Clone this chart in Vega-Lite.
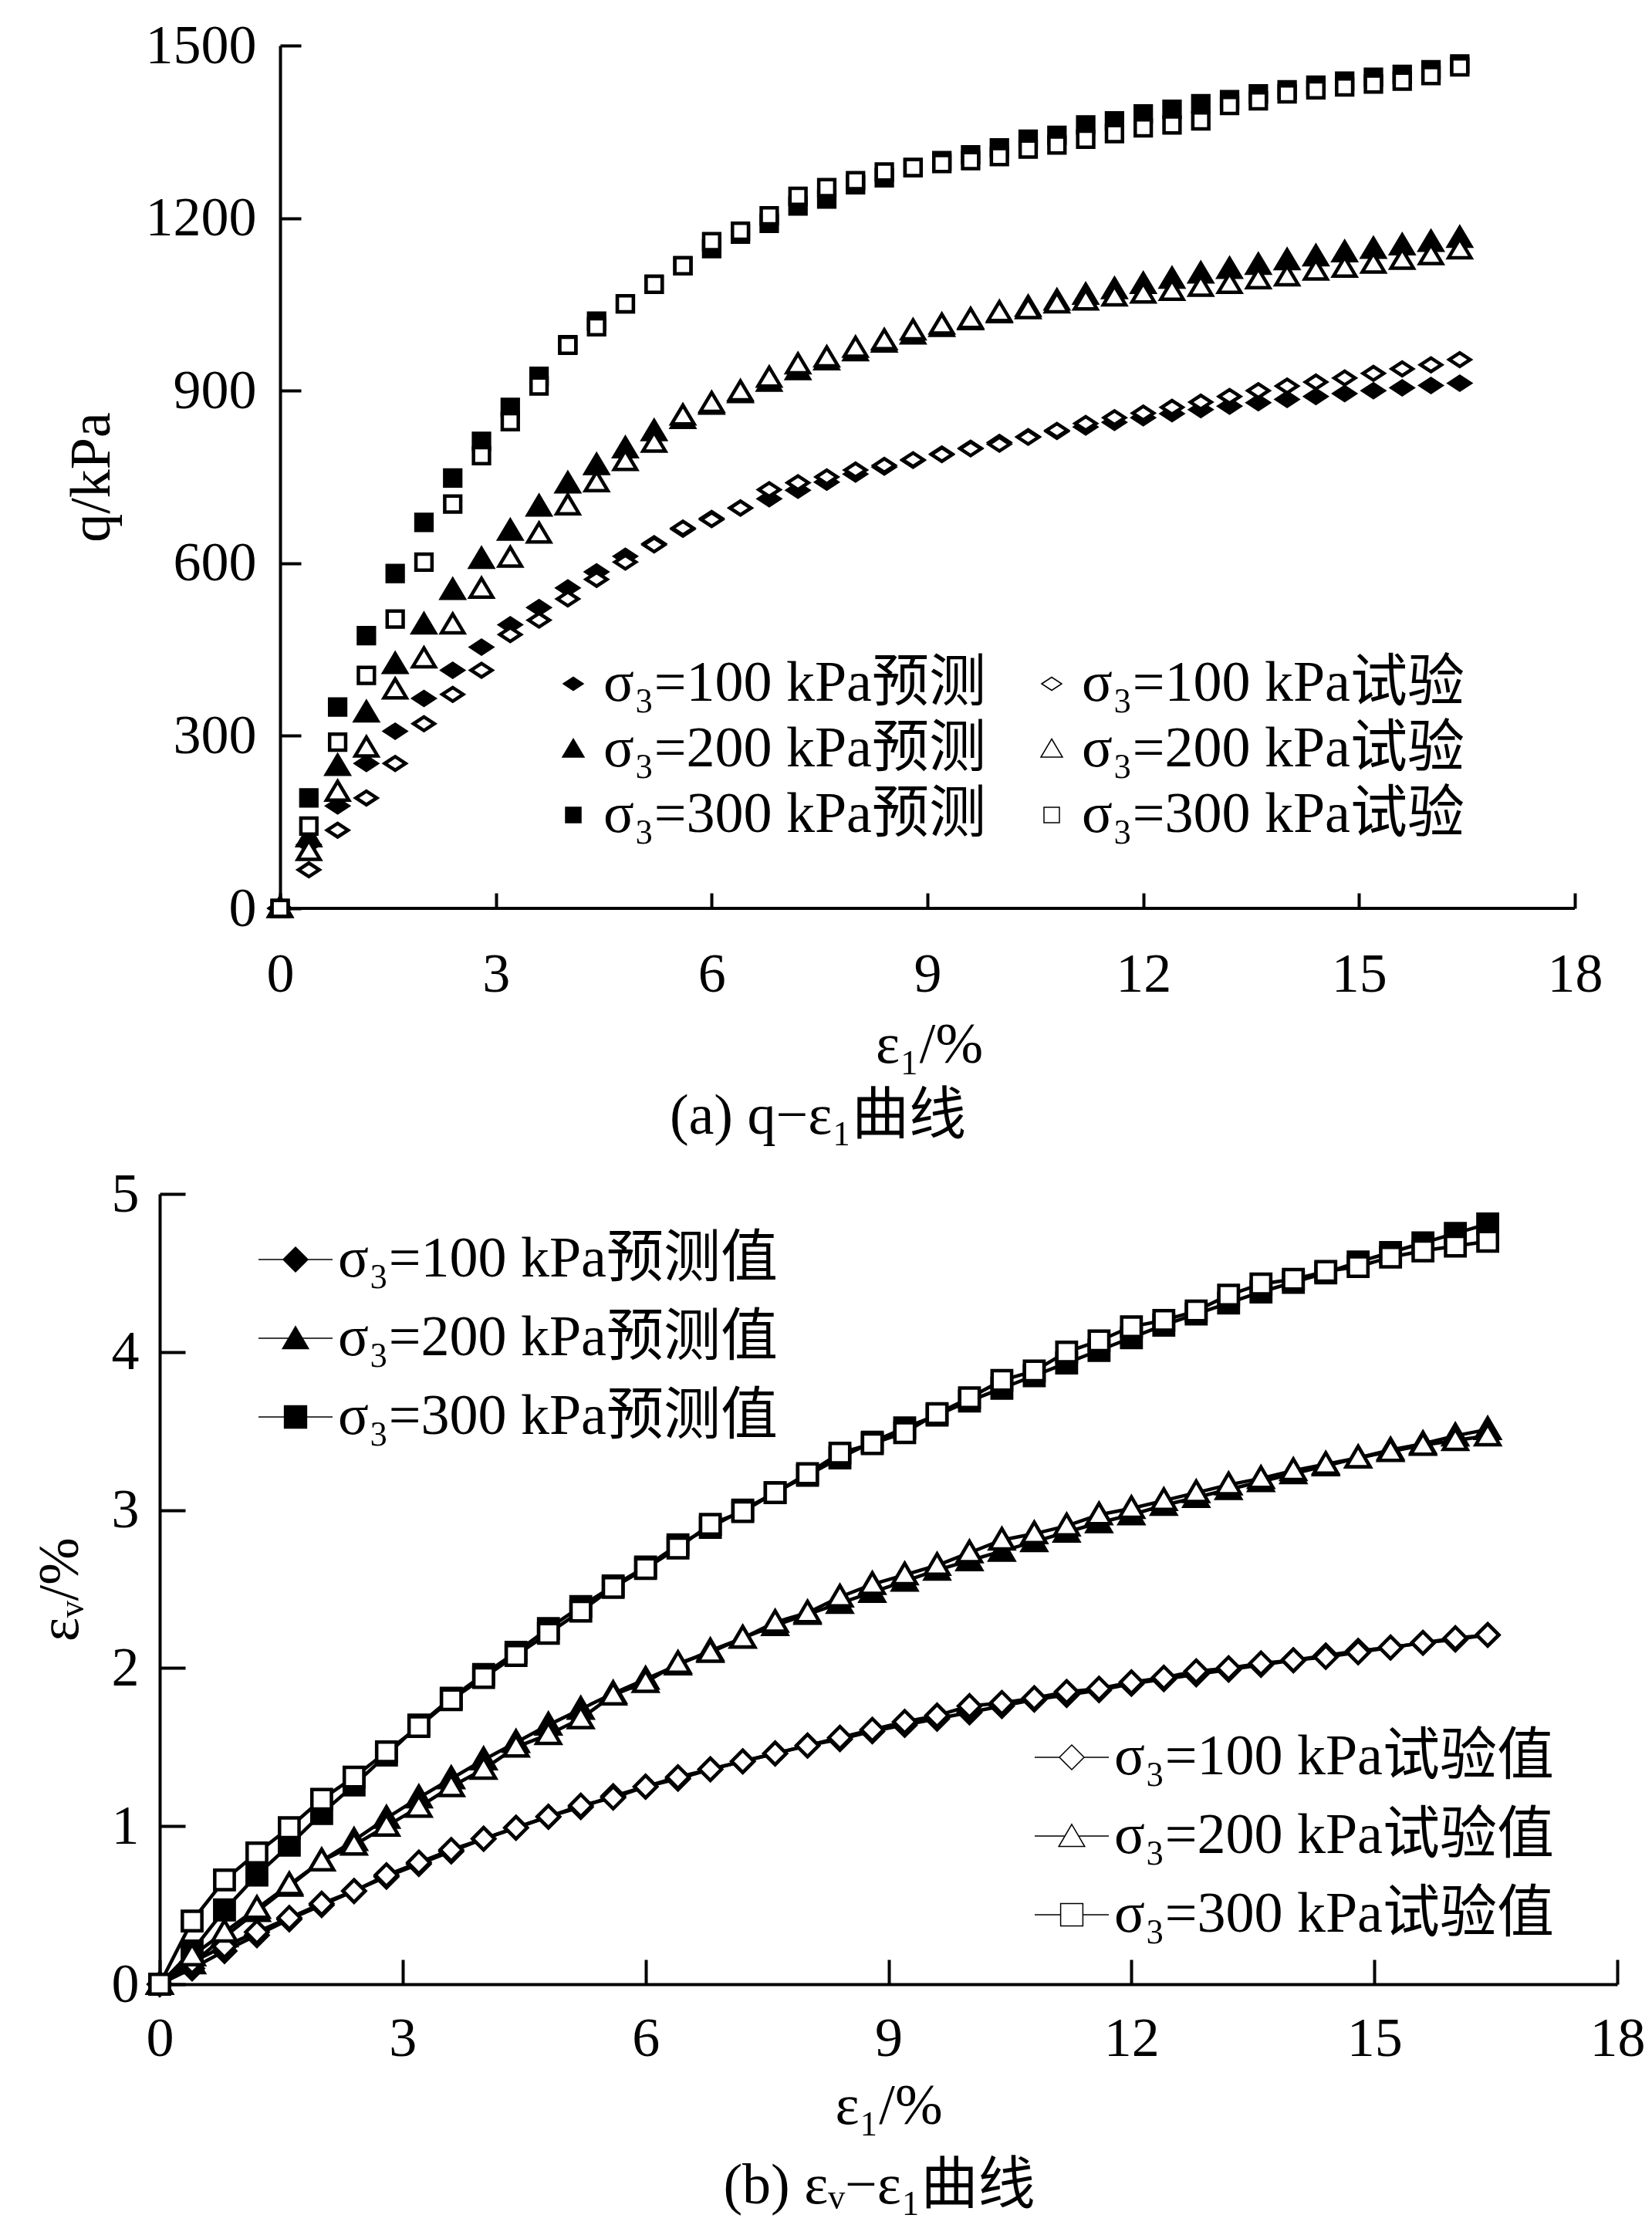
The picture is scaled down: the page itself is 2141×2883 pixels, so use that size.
{
"$schema": "https://vega.github.io/schema/vega-lite/v6.json",
"background": "white",
"padding": {"left": 41, "top": 23, "right": 5, "bottom": 5},
"spacing": 27,
"config": {
  "font": "Liberation Serif, Noto Sans CJK SC",
  "view": {"stroke": null},
  "axis": {"grid": false, "domainColor": "black", "domainWidth": 4, "tickColor": "black", "tickWidth": 4, "labelColor": "black", "titleColor": "black", "labelFont": "Liberation Serif, Noto Sans CJK SC", "labelFontSize": 72, "titleFont": "Liberation Serif, Noto Sans CJK SC", "titleFontSize": 74, "titleFontWeight": "normal", "labelFlush": false, "labelOverlap": false, "format": "d"},
  "legend": {"labelFont": "Liberation Serif, Noto Sans CJK SC", "labelFontSize": 74, "labelColor": "black", "padding": 0, "labelLimit": 2000},
  "title": {"font": "Liberation Serif, Noto Sans CJK SC", "fontSize": 74, "fontWeight": "normal", "color": "black"}
},
"datasets": {
"qdata": [
{"e":0,"q":0,"s":"σ₃=100 kPa预测"},{"e":0.4,"q":111,"s":"σ₃=100 kPa预测"},{"e":0.8,"q":178,"s":"σ₃=100 kPa预测"},{"e":1.2,"q":252,"s":"σ₃=100 kPa预测"},{"e":1.6,"q":308,"s":"σ₃=100 kPa预测"},{"e":2,"q":365,"s":"σ₃=100 kPa预测"},{"e":2.4,"q":414,"s":"σ₃=100 kPa预测"},{"e":2.8,"q":454,"s":"σ₃=100 kPa预测"},{"e":3.2,"q":493,"s":"σ₃=100 kPa预测"},{"e":3.6,"q":523,"s":"σ₃=100 kPa预测"},{"e":4,"q":557,"s":"σ₃=100 kPa预测"},{"e":4.4,"q":585,"s":"σ₃=100 kPa预测"},{"e":4.8,"q":612,"s":"σ₃=100 kPa预测"},{"e":5.2,"q":634,"s":"σ₃=100 kPa预测"},{"e":5.6,"q":659,"s":"σ₃=100 kPa预测"},{"e":6,"q":678,"s":"σ₃=100 kPa预测"},{"e":6.4,"q":696,"s":"σ₃=100 kPa预测"},{"e":6.8,"q":712,"s":"σ₃=100 kPa预测"},{"e":7.2,"q":727,"s":"σ₃=100 kPa预测"},{"e":7.6,"q":741,"s":"σ₃=100 kPa预测"},{"e":8,"q":755,"s":"σ₃=100 kPa预测"},{"e":8.4,"q":767,"s":"σ₃=100 kPa预测"},{"e":8.8,"q":779,"s":"σ₃=100 kPa预测"},{"e":9.2,"q":790,"s":"σ₃=100 kPa预测"},{"e":9.6,"q":800,"s":"σ₃=100 kPa预测"},{"e":10,"q":810,"s":"σ₃=100 kPa预测"},{"e":10.4,"q":820,"s":"σ₃=100 kPa预测"},{"e":10.8,"q":829,"s":"σ₃=100 kPa预测"},{"e":11.2,"q":837,"s":"σ₃=100 kPa预测"},{"e":11.6,"q":845,"s":"σ₃=100 kPa预测"},{"e":12,"q":853,"s":"σ₃=100 kPa预测"},{"e":12.4,"q":860,"s":"σ₃=100 kPa预测"},{"e":12.8,"q":867,"s":"σ₃=100 kPa预测"},{"e":13.2,"q":873,"s":"σ₃=100 kPa预测"},{"e":13.6,"q":879,"s":"σ₃=100 kPa预测"},{"e":14,"q":885,"s":"σ₃=100 kPa预测"},{"e":14.4,"q":890,"s":"σ₃=100 kPa预测"},{"e":14.8,"q":895,"s":"σ₃=100 kPa预测"},{"e":15.2,"q":900,"s":"σ₃=100 kPa预测"},{"e":15.6,"q":905,"s":"σ₃=100 kPa预测"},{"e":16,"q":909,"s":"σ₃=100 kPa预测"},{"e":16.4,"q":913,"s":"σ₃=100 kPa预测"},
{"e":0,"q":0,"s":"σ₃=200 kPa预测"},{"e":0.4,"q":123,"s":"σ₃=200 kPa预测"},{"e":0.8,"q":247,"s":"σ₃=200 kPa预测"},{"e":1.2,"q":340,"s":"σ₃=200 kPa预测"},{"e":1.6,"q":424,"s":"σ₃=200 kPa预测"},{"e":2,"q":493,"s":"σ₃=200 kPa预测"},{"e":2.4,"q":553,"s":"σ₃=200 kPa预测"},{"e":2.8,"q":607,"s":"σ₃=200 kPa预测"},{"e":3.2,"q":656,"s":"σ₃=200 kPa预测"},{"e":3.6,"q":698,"s":"σ₃=200 kPa预测"},{"e":4,"q":738,"s":"σ₃=200 kPa预测"},{"e":4.4,"q":770,"s":"σ₃=200 kPa预测"},{"e":4.8,"q":799,"s":"σ₃=200 kPa预测"},{"e":5.2,"q":829,"s":"σ₃=200 kPa预测"},{"e":5.6,"q":850,"s":"σ₃=200 kPa预测"},{"e":6,"q":875,"s":"σ₃=200 kPa预测"},{"e":6.4,"q":895,"s":"σ₃=200 kPa预测"},{"e":6.8,"q":915,"s":"σ₃=200 kPa预测"},{"e":7.2,"q":935,"s":"σ₃=200 kPa预测"},{"e":7.6,"q":952,"s":"σ₃=200 kPa预测"},{"e":8,"q":968,"s":"σ₃=200 kPa预测"},{"e":8.4,"q":983,"s":"σ₃=200 kPa预测"},{"e":8.8,"q":997,"s":"σ₃=200 kPa预测"},{"e":9.2,"q":1010,"s":"σ₃=200 kPa预测"},{"e":9.6,"q":1022,"s":"σ₃=200 kPa预测"},{"e":10,"q":1034,"s":"σ₃=200 kPa预测"},{"e":10.4,"q":1045,"s":"σ₃=200 kPa预测"},{"e":10.8,"q":1056,"s":"σ₃=200 kPa预测"},{"e":11.2,"q":1066,"s":"σ₃=200 kPa预测"},{"e":11.6,"q":1076,"s":"σ₃=200 kPa预测"},{"e":12,"q":1085,"s":"σ₃=200 kPa预测"},{"e":12.4,"q":1094,"s":"σ₃=200 kPa预测"},{"e":12.8,"q":1103,"s":"σ₃=200 kPa预测"},{"e":13.2,"q":1111,"s":"σ₃=200 kPa预测"},{"e":13.6,"q":1118,"s":"σ₃=200 kPa预测"},{"e":14,"q":1126,"s":"σ₃=200 kPa预测"},{"e":14.4,"q":1133,"s":"σ₃=200 kPa预测"},{"e":14.8,"q":1140,"s":"σ₃=200 kPa预测"},{"e":15.2,"q":1146,"s":"σ₃=200 kPa预测"},{"e":15.6,"q":1152,"s":"σ₃=200 kPa预测"},{"e":16,"q":1158,"s":"σ₃=200 kPa预测"},{"e":16.4,"q":1165,"s":"σ₃=200 kPa预测"},
{"e":0,"q":0,"s":"σ₃=300 kPa预测"},{"e":0.4,"q":192,"s":"σ₃=300 kPa预测"},{"e":0.8,"q":350,"s":"σ₃=300 kPa预测"},{"e":1.2,"q":474,"s":"σ₃=300 kPa预测"},{"e":1.6,"q":582,"s":"σ₃=300 kPa预测"},{"e":2,"q":671,"s":"σ₃=300 kPa预测"},{"e":2.4,"q":748,"s":"σ₃=300 kPa预测"},{"e":2.8,"q":812,"s":"σ₃=300 kPa预测"},{"e":3.2,"q":871,"s":"σ₃=300 kPa预测"},{"e":3.6,"q":925,"s":"σ₃=300 kPa预测"},{"e":4,"q":980,"s":"σ₃=300 kPa预测"},{"e":4.4,"q":1021,"s":"σ₃=300 kPa预测"},{"e":4.8,"q":1051,"s":"σ₃=300 kPa预测"},{"e":5.2,"q":1085,"s":"σ₃=300 kPa预测"},{"e":5.6,"q":1117,"s":"σ₃=300 kPa预测"},{"e":6,"q":1147,"s":"σ₃=300 kPa预测"},{"e":6.4,"q":1172,"s":"σ₃=300 kPa预测"},{"e":6.8,"q":1191,"s":"σ₃=300 kPa预测"},{"e":7.2,"q":1221,"s":"σ₃=300 kPa预测"},{"e":7.6,"q":1233,"s":"σ₃=300 kPa预测"},{"e":8,"q":1258,"s":"σ₃=300 kPa预测"},{"e":8.4,"q":1270,"s":"σ₃=300 kPa预测"},{"e":8.8,"q":1288,"s":"σ₃=300 kPa预测"},{"e":9.2,"q":1300,"s":"σ₃=300 kPa预测"},{"e":9.6,"q":1310,"s":"σ₃=300 kPa预测"},{"e":10,"q":1322,"s":"σ₃=300 kPa预测"},{"e":10.4,"q":1337,"s":"σ₃=300 kPa预测"},{"e":10.8,"q":1344,"s":"σ₃=300 kPa预测"},{"e":11.2,"q":1362,"s":"σ₃=300 kPa预测"},{"e":11.6,"q":1369,"s":"σ₃=300 kPa预测"},{"e":12,"q":1381,"s":"σ₃=300 kPa预测"},{"e":12.4,"q":1389,"s":"σ₃=300 kPa预测"},{"e":12.8,"q":1399,"s":"σ₃=300 kPa预测"},{"e":13.2,"q":1406,"s":"σ₃=300 kPa预测"},{"e":13.6,"q":1416,"s":"σ₃=300 kPa预测"},{"e":14,"q":1423,"s":"σ₃=300 kPa预测"},{"e":14.4,"q":1431,"s":"σ₃=300 kPa预测"},{"e":14.8,"q":1438,"s":"σ₃=300 kPa预测"},{"e":15.2,"q":1445,"s":"σ₃=300 kPa预测"},{"e":15.6,"q":1450,"s":"σ₃=300 kPa预测"},{"e":16,"q":1458,"s":"σ₃=300 kPa预测"},{"e":16.4,"q":1468,"s":"σ₃=300 kPa预测"},
{"e":0,"q":0,"s":"σ₃=100 kPa试验"},{"e":0.4,"q":67,"s":"σ₃=100 kPa试验"},{"e":0.8,"q":136,"s":"σ₃=100 kPa试验"},{"e":1.2,"q":192,"s":"σ₃=100 kPa试验"},{"e":1.6,"q":252,"s":"σ₃=100 kPa试验"},{"e":2,"q":321,"s":"σ₃=100 kPa试验"},{"e":2.4,"q":372,"s":"σ₃=100 kPa试验"},{"e":2.8,"q":414,"s":"σ₃=100 kPa试验"},{"e":3.2,"q":476,"s":"σ₃=100 kPa试验"},{"e":3.6,"q":501,"s":"σ₃=100 kPa试验"},{"e":4,"q":538,"s":"σ₃=100 kPa试验"},{"e":4.4,"q":572,"s":"σ₃=100 kPa试验"},{"e":4.8,"q":602,"s":"σ₃=100 kPa试验"},{"e":5.2,"q":632,"s":"σ₃=100 kPa试验"},{"e":5.6,"q":661,"s":"σ₃=100 kPa试验"},{"e":6,"q":676,"s":"σ₃=100 kPa试验"},{"e":6.4,"q":696,"s":"σ₃=100 kPa试验"},{"e":6.8,"q":728,"s":"σ₃=100 kPa试验"},{"e":7.2,"q":740,"s":"σ₃=100 kPa试验"},{"e":7.6,"q":750,"s":"σ₃=100 kPa试验"},{"e":8,"q":762,"s":"σ₃=100 kPa试验"},{"e":8.4,"q":770,"s":"σ₃=100 kPa试验"},{"e":8.8,"q":780,"s":"σ₃=100 kPa试验"},{"e":9.2,"q":789,"s":"σ₃=100 kPa试验"},{"e":9.6,"q":799,"s":"σ₃=100 kPa试验"},{"e":10,"q":807,"s":"σ₃=100 kPa试验"},{"e":10.4,"q":819,"s":"σ₃=100 kPa试验"},{"e":10.8,"q":831,"s":"σ₃=100 kPa试验"},{"e":11.2,"q":843,"s":"σ₃=100 kPa试验"},{"e":11.6,"q":853,"s":"σ₃=100 kPa试验"},{"e":12,"q":861,"s":"σ₃=100 kPa试验"},{"e":12.4,"q":871,"s":"σ₃=100 kPa试验"},{"e":12.8,"q":880,"s":"σ₃=100 kPa试验"},{"e":13.2,"q":890,"s":"σ₃=100 kPa试验"},{"e":13.6,"q":900,"s":"σ₃=100 kPa试验"},{"e":14,"q":908,"s":"σ₃=100 kPa试验"},{"e":14.4,"q":915,"s":"σ₃=100 kPa试验"},{"e":14.8,"q":922,"s":"σ₃=100 kPa试验"},{"e":15.2,"q":930,"s":"σ₃=100 kPa试验"},{"e":15.6,"q":938,"s":"σ₃=100 kPa试验"},{"e":16,"q":945,"s":"σ₃=100 kPa试验"},{"e":16.4,"q":954,"s":"σ₃=100 kPa试验"},
{"e":0,"q":0,"s":"σ₃=200 kPa试验"},{"e":0.4,"q":99,"s":"σ₃=200 kPa试验"},{"e":0.8,"q":202,"s":"σ₃=200 kPa试验"},{"e":1.2,"q":279,"s":"σ₃=200 kPa试验"},{"e":1.6,"q":380,"s":"σ₃=200 kPa试验"},{"e":2,"q":434,"s":"σ₃=200 kPa试验"},{"e":2.4,"q":493,"s":"σ₃=200 kPa试验"},{"e":2.8,"q":555,"s":"σ₃=200 kPa试验"},{"e":3.2,"q":609,"s":"σ₃=200 kPa试验"},{"e":3.6,"q":651,"s":"σ₃=200 kPa试验"},{"e":4,"q":700,"s":"σ₃=200 kPa试验"},{"e":4.4,"q":740,"s":"σ₃=200 kPa试验"},{"e":4.8,"q":777,"s":"σ₃=200 kPa试验"},{"e":5.2,"q":809,"s":"σ₃=200 kPa试验"},{"e":5.6,"q":856,"s":"σ₃=200 kPa试验"},{"e":6,"q":878,"s":"σ₃=200 kPa试验"},{"e":6.4,"q":898,"s":"σ₃=200 kPa试验"},{"e":6.8,"q":922,"s":"σ₃=200 kPa试验"},{"e":7.2,"q":945,"s":"σ₃=200 kPa试验"},{"e":7.6,"q":957,"s":"σ₃=200 kPa试验"},{"e":8,"q":974,"s":"σ₃=200 kPa试验"},{"e":8.4,"q":987,"s":"σ₃=200 kPa试验"},{"e":8.8,"q":1004,"s":"σ₃=200 kPa试验"},{"e":9.2,"q":1014,"s":"σ₃=200 kPa试验"},{"e":9.6,"q":1024,"s":"σ₃=200 kPa试验"},{"e":10,"q":1036,"s":"σ₃=200 kPa试验"},{"e":10.4,"q":1041,"s":"σ₃=200 kPa试验"},{"e":10.8,"q":1051,"s":"σ₃=200 kPa试验"},{"e":11.2,"q":1056,"s":"σ₃=200 kPa试验"},{"e":11.6,"q":1063,"s":"σ₃=200 kPa试验"},{"e":12,"q":1068,"s":"σ₃=200 kPa试验"},{"e":12.4,"q":1073,"s":"σ₃=200 kPa试验"},{"e":12.8,"q":1080,"s":"σ₃=200 kPa试验"},{"e":13.2,"q":1085,"s":"σ₃=200 kPa试验"},{"e":13.6,"q":1093,"s":"σ₃=200 kPa试验"},{"e":14,"q":1098,"s":"σ₃=200 kPa试验"},{"e":14.4,"q":1108,"s":"σ₃=200 kPa试验"},{"e":14.8,"q":1113,"s":"σ₃=200 kPa试验"},{"e":15.2,"q":1120,"s":"σ₃=200 kPa试验"},{"e":15.6,"q":1127,"s":"σ₃=200 kPa试验"},{"e":16,"q":1135,"s":"σ₃=200 kPa试验"},{"e":16.4,"q":1145,"s":"σ₃=200 kPa试验"},
{"e":0,"q":0,"s":"σ₃=300 kPa试验"},{"e":0.4,"q":143,"s":"σ₃=300 kPa试验"},{"e":0.8,"q":289,"s":"σ₃=300 kPa试验"},{"e":1.2,"q":405,"s":"σ₃=300 kPa试验"},{"e":1.6,"q":503,"s":"σ₃=300 kPa试验"},{"e":2,"q":602,"s":"σ₃=300 kPa试验"},{"e":2.4,"q":703,"s":"σ₃=300 kPa试验"},{"e":2.8,"q":787,"s":"σ₃=300 kPa试验"},{"e":3.2,"q":846,"s":"σ₃=300 kPa试验"},{"e":3.6,"q":908,"s":"σ₃=300 kPa试验"},{"e":4,"q":979,"s":"σ₃=300 kPa试验"},{"e":4.4,"q":1011,"s":"σ₃=300 kPa试验"},{"e":4.8,"q":1051,"s":"σ₃=300 kPa试验"},{"e":5.2,"q":1085,"s":"σ₃=300 kPa试验"},{"e":5.6,"q":1117,"s":"σ₃=300 kPa试验"},{"e":6,"q":1159,"s":"σ₃=300 kPa试验"},{"e":6.4,"q":1177,"s":"σ₃=300 kPa试验"},{"e":6.8,"q":1204,"s":"σ₃=300 kPa试验"},{"e":7.2,"q":1238,"s":"σ₃=300 kPa试验"},{"e":7.6,"q":1253,"s":"σ₃=300 kPa试验"},{"e":8,"q":1265,"s":"σ₃=300 kPa试验"},{"e":8.4,"q":1280,"s":"σ₃=300 kPa试验"},{"e":8.8,"q":1288,"s":"σ₃=300 kPa试验"},{"e":9.2,"q":1295,"s":"σ₃=300 kPa试验"},{"e":9.6,"q":1300,"s":"σ₃=300 kPa试验"},{"e":10,"q":1307,"s":"σ₃=300 kPa试验"},{"e":10.4,"q":1320,"s":"σ₃=300 kPa试验"},{"e":10.8,"q":1327,"s":"σ₃=300 kPa试验"},{"e":11.2,"q":1337,"s":"σ₃=300 kPa试验"},{"e":11.6,"q":1347,"s":"σ₃=300 kPa试验"},{"e":12,"q":1357,"s":"σ₃=300 kPa试验"},{"e":12.4,"q":1362,"s":"σ₃=300 kPa试验"},{"e":12.8,"q":1369,"s":"σ₃=300 kPa试验"},{"e":13.2,"q":1396,"s":"σ₃=300 kPa试验"},{"e":13.6,"q":1404,"s":"σ₃=300 kPa试验"},{"e":14,"q":1416,"s":"σ₃=300 kPa试验"},{"e":14.4,"q":1423,"s":"σ₃=300 kPa试验"},{"e":14.8,"q":1428,"s":"σ₃=300 kPa试验"},{"e":15.2,"q":1433,"s":"σ₃=300 kPa试验"},{"e":15.6,"q":1438,"s":"σ₃=300 kPa试验"},{"e":16,"q":1448,"s":"σ₃=300 kPa试验"},{"e":16.4,"q":1463,"s":"σ₃=300 kPa试验"}
],
"vdata": [
{"e":0,"v":0,"s":"σ₃=100 kPa预测值"},{"e":0.4,"v":0.10,"s":"σ₃=100 kPa预测值"},{"e":0.8,"v":0.21,"s":"σ₃=100 kPa预测值"},{"e":1.2,"v":0.31,"s":"σ₃=100 kPa预测值"},{"e":1.6,"v":0.41,"s":"σ₃=100 kPa预测值"},{"e":2,"v":0.50,"s":"σ₃=100 kPa预测值"},{"e":2.4,"v":0.59,"s":"σ₃=100 kPa预测值"},{"e":2.8,"v":0.68,"s":"σ₃=100 kPa预测值"},{"e":3.2,"v":0.76,"s":"σ₃=100 kPa预测值"},{"e":3.6,"v":0.84,"s":"σ₃=100 kPa预测值"},{"e":4,"v":0.92,"s":"σ₃=100 kPa预测值"},{"e":4.4,"v":0.99,"s":"σ₃=100 kPa预测值"},{"e":4.8,"v":1.06,"s":"σ₃=100 kPa预测值"},{"e":5.2,"v":1.12,"s":"σ₃=100 kPa预测值"},{"e":5.6,"v":1.19,"s":"σ₃=100 kPa预测值"},{"e":6,"v":1.25,"s":"σ₃=100 kPa预测值"},{"e":6.4,"v":1.30,"s":"σ₃=100 kPa预测值"},{"e":6.8,"v":1.36,"s":"σ₃=100 kPa预测值"},{"e":7.2,"v":1.41,"s":"σ₃=100 kPa预测值"},{"e":7.6,"v":1.46,"s":"σ₃=100 kPa预测值"},{"e":8,"v":1.51,"s":"σ₃=100 kPa预测值"},{"e":8.4,"v":1.55,"s":"σ₃=100 kPa预测值"},{"e":8.8,"v":1.60,"s":"σ₃=100 kPa预测值"},{"e":9.2,"v":1.64,"s":"σ₃=100 kPa预测值"},{"e":9.6,"v":1.68,"s":"σ₃=100 kPa预测值"},{"e":10,"v":1.72,"s":"σ₃=100 kPa预测值"},{"e":10.4,"v":1.76,"s":"σ₃=100 kPa预测值"},{"e":10.8,"v":1.80,"s":"σ₃=100 kPa预测值"},{"e":11.2,"v":1.83,"s":"σ₃=100 kPa预测值"},{"e":11.6,"v":1.86,"s":"σ₃=100 kPa预测值"},{"e":12,"v":1.90,"s":"σ₃=100 kPa预测值"},{"e":12.4,"v":1.93,"s":"σ₃=100 kPa预测值"},{"e":12.8,"v":1.96,"s":"σ₃=100 kPa预测值"},{"e":13.2,"v":1.99,"s":"σ₃=100 kPa预测值"},{"e":13.6,"v":2.02,"s":"σ₃=100 kPa预测值"},{"e":14,"v":2.05,"s":"σ₃=100 kPa预测值"},{"e":14.4,"v":2.08,"s":"σ₃=100 kPa预测值"},{"e":14.8,"v":2.11,"s":"σ₃=100 kPa预测值"},{"e":15.2,"v":2.13,"s":"σ₃=100 kPa预测值"},{"e":15.6,"v":2.16,"s":"σ₃=100 kPa预测值"},{"e":16,"v":2.18,"s":"σ₃=100 kPa预测值"},{"e":16.4,"v":2.21,"s":"σ₃=100 kPa预测值"},
{"e":0,"v":0,"s":"σ₃=200 kPa预测值"},{"e":0.4,"v":0.13,"s":"σ₃=200 kPa预测值"},{"e":0.8,"v":0.30,"s":"σ₃=200 kPa预测值"},{"e":1.2,"v":0.46,"s":"σ₃=200 kPa预测值"},{"e":1.6,"v":0.62,"s":"σ₃=200 kPa预测值"},{"e":2,"v":0.78,"s":"σ₃=200 kPa预测值"},{"e":2.4,"v":0.91,"s":"σ₃=200 kPa预测值"},{"e":2.8,"v":1.05,"s":"σ₃=200 kPa预测值"},{"e":3.2,"v":1.18,"s":"σ₃=200 kPa预测值"},{"e":3.6,"v":1.30,"s":"σ₃=200 kPa预测值"},{"e":4,"v":1.42,"s":"σ₃=200 kPa预测值"},{"e":4.4,"v":1.53,"s":"σ₃=200 kPa预测值"},{"e":4.8,"v":1.64,"s":"σ₃=200 kPa预测值"},{"e":5.2,"v":1.74,"s":"σ₃=200 kPa预测值"},{"e":5.6,"v":1.84,"s":"σ₃=200 kPa预测值"},{"e":6,"v":1.93,"s":"σ₃=200 kPa预测值"},{"e":6.4,"v":2.02,"s":"σ₃=200 kPa预测值"},{"e":6.8,"v":2.11,"s":"σ₃=200 kPa预测值"},{"e":7.2,"v":2.19,"s":"σ₃=200 kPa预测值"},{"e":7.6,"v":2.27,"s":"σ₃=200 kPa预测值"},{"e":8,"v":2.34,"s":"σ₃=200 kPa预测值"},{"e":8.4,"v":2.41,"s":"σ₃=200 kPa预测值"},{"e":8.8,"v":2.48,"s":"σ₃=200 kPa预测值"},{"e":9.2,"v":2.55,"s":"σ₃=200 kPa预测值"},{"e":9.6,"v":2.62,"s":"σ₃=200 kPa预测值"},{"e":10,"v":2.68,"s":"σ₃=200 kPa预测值"},{"e":10.4,"v":2.74,"s":"σ₃=200 kPa预测值"},{"e":10.8,"v":2.80,"s":"σ₃=200 kPa预测值"},{"e":11.2,"v":2.86,"s":"σ₃=200 kPa预测值"},{"e":11.6,"v":2.92,"s":"σ₃=200 kPa预测值"},{"e":12,"v":2.97,"s":"σ₃=200 kPa预测值"},{"e":12.4,"v":3.03,"s":"σ₃=200 kPa预测值"},{"e":12.8,"v":3.08,"s":"σ₃=200 kPa预测值"},{"e":13.2,"v":3.13,"s":"σ₃=200 kPa预测值"},{"e":13.6,"v":3.18,"s":"σ₃=200 kPa预测值"},{"e":14,"v":3.23,"s":"σ₃=200 kPa预测值"},{"e":14.4,"v":3.28,"s":"σ₃=200 kPa预测值"},{"e":14.8,"v":3.33,"s":"σ₃=200 kPa预测值"},{"e":15.2,"v":3.38,"s":"σ₃=200 kPa预测值"},{"e":15.6,"v":3.42,"s":"σ₃=200 kPa预测值"},{"e":16,"v":3.47,"s":"σ₃=200 kPa预测值"},{"e":16.4,"v":3.51,"s":"σ₃=200 kPa预测值"},
{"e":0,"v":0,"s":"σ₃=300 kPa预测值"},{"e":0.4,"v":0.21,"s":"σ₃=300 kPa预测值"},{"e":0.8,"v":0.47,"s":"σ₃=300 kPa预测值"},{"e":1.2,"v":0.69,"s":"σ₃=300 kPa预测值"},{"e":1.6,"v":0.88,"s":"σ₃=300 kPa预测值"},{"e":2,"v":1.08,"s":"σ₃=300 kPa预测值"},{"e":2.4,"v":1.26,"s":"σ₃=300 kPa预测值"},{"e":2.8,"v":1.45,"s":"σ₃=300 kPa预测值"},{"e":3.2,"v":1.64,"s":"σ₃=300 kPa预测值"},{"e":3.6,"v":1.81,"s":"σ₃=300 kPa预测值"},{"e":4,"v":1.96,"s":"σ₃=300 kPa预测值"},{"e":4.4,"v":2.10,"s":"σ₃=300 kPa预测值"},{"e":4.8,"v":2.25,"s":"σ₃=300 kPa预测值"},{"e":5.2,"v":2.39,"s":"σ₃=300 kPa预测值"},{"e":5.6,"v":2.52,"s":"σ₃=300 kPa预测值"},{"e":6,"v":2.64,"s":"σ₃=300 kPa预测值"},{"e":6.4,"v":2.78,"s":"σ₃=300 kPa预测值"},{"e":6.8,"v":2.89,"s":"σ₃=300 kPa预测值"},{"e":7.2,"v":3.00,"s":"σ₃=300 kPa预测值"},{"e":7.6,"v":3.11,"s":"σ₃=300 kPa预测值"},{"e":8,"v":3.22,"s":"σ₃=300 kPa预测值"},{"e":8.4,"v":3.33,"s":"σ₃=300 kPa预测值"},{"e":8.8,"v":3.43,"s":"σ₃=300 kPa预测值"},{"e":9.2,"v":3.52,"s":"σ₃=300 kPa预测值"},{"e":9.6,"v":3.60,"s":"σ₃=300 kPa预测值"},{"e":10,"v":3.69,"s":"σ₃=300 kPa预测值"},{"e":10.4,"v":3.77,"s":"σ₃=300 kPa预测值"},{"e":10.8,"v":3.85,"s":"σ₃=300 kPa预测值"},{"e":11.2,"v":3.93,"s":"σ₃=300 kPa预测值"},{"e":11.6,"v":4.01,"s":"σ₃=300 kPa预测值"},{"e":12,"v":4.09,"s":"σ₃=300 kPa预测值"},{"e":12.4,"v":4.17,"s":"σ₃=300 kPa预测值"},{"e":12.8,"v":4.24,"s":"σ₃=300 kPa预测值"},{"e":13.2,"v":4.31,"s":"σ₃=300 kPa预测值"},{"e":13.6,"v":4.38,"s":"σ₃=300 kPa预测值"},{"e":14,"v":4.44,"s":"σ₃=300 kPa预测值"},{"e":14.4,"v":4.50,"s":"σ₃=300 kPa预测值"},{"e":14.8,"v":4.57,"s":"σ₃=300 kPa预测值"},{"e":15.2,"v":4.63,"s":"σ₃=300 kPa预测值"},{"e":15.6,"v":4.69,"s":"σ₃=300 kPa预测值"},{"e":16,"v":4.75,"s":"σ₃=300 kPa预测值"},{"e":16.4,"v":4.81,"s":"σ₃=300 kPa预测值"},
{"e":0,"v":0,"s":"σ₃=100 kPa试验值"},{"e":0.4,"v":0.14,"s":"σ₃=100 kPa试验值"},{"e":0.8,"v":0.24,"s":"σ₃=100 kPa试验值"},{"e":1.2,"v":0.33,"s":"σ₃=100 kPa试验值"},{"e":1.6,"v":0.42,"s":"σ₃=100 kPa试验值"},{"e":2,"v":0.51,"s":"σ₃=100 kPa试验值"},{"e":2.4,"v":0.59,"s":"σ₃=100 kPa试验值"},{"e":2.8,"v":0.69,"s":"σ₃=100 kPa试验值"},{"e":3.2,"v":0.77,"s":"σ₃=100 kPa试验值"},{"e":3.6,"v":0.85,"s":"σ₃=100 kPa试验值"},{"e":4,"v":0.92,"s":"σ₃=100 kPa试验值"},{"e":4.4,"v":0.99,"s":"σ₃=100 kPa试验值"},{"e":4.8,"v":1.06,"s":"σ₃=100 kPa试验值"},{"e":5.2,"v":1.13,"s":"σ₃=100 kPa试验值"},{"e":5.6,"v":1.18,"s":"σ₃=100 kPa试验值"},{"e":6,"v":1.25,"s":"σ₃=100 kPa试验值"},{"e":6.4,"v":1.31,"s":"σ₃=100 kPa试验值"},{"e":6.8,"v":1.36,"s":"σ₃=100 kPa试验值"},{"e":7.2,"v":1.41,"s":"σ₃=100 kPa试验值"},{"e":7.6,"v":1.46,"s":"σ₃=100 kPa试验值"},{"e":8,"v":1.51,"s":"σ₃=100 kPa试验值"},{"e":8.4,"v":1.56,"s":"σ₃=100 kPa试验值"},{"e":8.8,"v":1.61,"s":"σ₃=100 kPa试验值"},{"e":9.2,"v":1.66,"s":"σ₃=100 kPa试验值"},{"e":9.6,"v":1.70,"s":"σ₃=100 kPa试验值"},{"e":10,"v":1.76,"s":"σ₃=100 kPa试验值"},{"e":10.4,"v":1.78,"s":"σ₃=100 kPa试验值"},{"e":10.8,"v":1.81,"s":"σ₃=100 kPa试验值"},{"e":11.2,"v":1.85,"s":"σ₃=100 kPa试验值"},{"e":11.6,"v":1.87,"s":"σ₃=100 kPa试验值"},{"e":12,"v":1.91,"s":"σ₃=100 kPa试验值"},{"e":12.4,"v":1.94,"s":"σ₃=100 kPa试验值"},{"e":12.8,"v":1.98,"s":"σ₃=100 kPa试验值"},{"e":13.2,"v":2.00,"s":"σ₃=100 kPa试验值"},{"e":13.6,"v":2.03,"s":"σ₃=100 kPa试验值"},{"e":14,"v":2.05,"s":"σ₃=100 kPa试验值"},{"e":14.4,"v":2.07,"s":"σ₃=100 kPa试验值"},{"e":14.8,"v":2.10,"s":"σ₃=100 kPa试验值"},{"e":15.2,"v":2.13,"s":"σ₃=100 kPa试验值"},{"e":15.6,"v":2.16,"s":"σ₃=100 kPa试验值"},{"e":16,"v":2.19,"s":"σ₃=100 kPa试验值"},{"e":16.4,"v":2.21,"s":"σ₃=100 kPa试验值"},
{"e":0,"v":0,"s":"σ₃=200 kPa试验值"},{"e":0.4,"v":0.18,"s":"σ₃=200 kPa试验值"},{"e":0.8,"v":0.33,"s":"σ₃=200 kPa试验值"},{"e":1.2,"v":0.48,"s":"σ₃=200 kPa试验值"},{"e":1.6,"v":0.63,"s":"σ₃=200 kPa试验值"},{"e":2,"v":0.78,"s":"σ₃=200 kPa试验值"},{"e":2.4,"v":0.88,"s":"σ₃=200 kPa试验值"},{"e":2.8,"v":1.00,"s":"σ₃=200 kPa试验值"},{"e":3.2,"v":1.12,"s":"σ₃=200 kPa试验值"},{"e":3.6,"v":1.25,"s":"σ₃=200 kPa试验值"},{"e":4,"v":1.36,"s":"σ₃=200 kPa试验值"},{"e":4.4,"v":1.50,"s":"σ₃=200 kPa试验值"},{"e":4.8,"v":1.58,"s":"σ₃=200 kPa试验值"},{"e":5.2,"v":1.68,"s":"σ₃=200 kPa试验值"},{"e":5.6,"v":1.83,"s":"σ₃=200 kPa试验值"},{"e":6,"v":1.91,"s":"σ₃=200 kPa试验值"},{"e":6.4,"v":2.03,"s":"σ₃=200 kPa试验值"},{"e":6.8,"v":2.10,"s":"σ₃=200 kPa试验值"},{"e":7.2,"v":2.19,"s":"σ₃=200 kPa试验值"},{"e":7.6,"v":2.29,"s":"σ₃=200 kPa试验值"},{"e":8,"v":2.35,"s":"σ₃=200 kPa试验值"},{"e":8.4,"v":2.45,"s":"σ₃=200 kPa试验值"},{"e":8.8,"v":2.53,"s":"σ₃=200 kPa试验值"},{"e":9.2,"v":2.59,"s":"σ₃=200 kPa试验值"},{"e":9.6,"v":2.65,"s":"σ₃=200 kPa试验值"},{"e":10,"v":2.73,"s":"σ₃=200 kPa试验值"},{"e":10.4,"v":2.81,"s":"σ₃=200 kPa试验值"},{"e":10.8,"v":2.85,"s":"σ₃=200 kPa试验值"},{"e":11.2,"v":2.90,"s":"σ₃=200 kPa试验值"},{"e":11.6,"v":2.97,"s":"σ₃=200 kPa试验值"},{"e":12,"v":3.01,"s":"σ₃=200 kPa试验值"},{"e":12.4,"v":3.06,"s":"σ₃=200 kPa试验值"},{"e":12.8,"v":3.11,"s":"σ₃=200 kPa试验值"},{"e":13.2,"v":3.16,"s":"σ₃=200 kPa试验值"},{"e":13.6,"v":3.20,"s":"σ₃=200 kPa试验值"},{"e":14,"v":3.25,"s":"σ₃=200 kPa试验值"},{"e":14.4,"v":3.29,"s":"σ₃=200 kPa试验值"},{"e":14.8,"v":3.33,"s":"σ₃=200 kPa试验值"},{"e":15.2,"v":3.37,"s":"σ₃=200 kPa试验值"},{"e":15.6,"v":3.41,"s":"σ₃=200 kPa试验值"},{"e":16,"v":3.44,"s":"σ₃=200 kPa试验值"},{"e":16.4,"v":3.47,"s":"σ₃=200 kPa试验值"},
{"e":0,"v":0,"s":"σ₃=300 kPa试验值"},{"e":0.4,"v":0.40,"s":"σ₃=300 kPa试验值"},{"e":0.8,"v":0.66,"s":"σ₃=300 kPa试验值"},{"e":1.2,"v":0.83,"s":"σ₃=300 kPa试验值"},{"e":1.6,"v":0.99,"s":"σ₃=300 kPa试验值"},{"e":2,"v":1.17,"s":"σ₃=300 kPa试验值"},{"e":2.4,"v":1.31,"s":"σ₃=300 kPa试验值"},{"e":2.8,"v":1.47,"s":"σ₃=300 kPa试验值"},{"e":3.2,"v":1.63,"s":"σ₃=300 kPa试验值"},{"e":3.6,"v":1.80,"s":"σ₃=300 kPa试验值"},{"e":4,"v":1.94,"s":"σ₃=300 kPa试验值"},{"e":4.4,"v":2.08,"s":"σ₃=300 kPa试验值"},{"e":4.8,"v":2.22,"s":"σ₃=300 kPa试验值"},{"e":5.2,"v":2.36,"s":"σ₃=300 kPa试验值"},{"e":5.6,"v":2.51,"s":"σ₃=300 kPa试验值"},{"e":6,"v":2.63,"s":"σ₃=300 kPa试验值"},{"e":6.4,"v":2.76,"s":"σ₃=300 kPa试验值"},{"e":6.8,"v":2.91,"s":"σ₃=300 kPa试验值"},{"e":7.2,"v":2.99,"s":"σ₃=300 kPa试验值"},{"e":7.6,"v":3.11,"s":"σ₃=300 kPa试验值"},{"e":8,"v":3.23,"s":"σ₃=300 kPa试验值"},{"e":8.4,"v":3.36,"s":"σ₃=300 kPa试验值"},{"e":8.8,"v":3.42,"s":"σ₃=300 kPa试验值"},{"e":9.2,"v":3.49,"s":"σ₃=300 kPa试验值"},{"e":9.6,"v":3.61,"s":"σ₃=300 kPa试验值"},{"e":10,"v":3.71,"s":"σ₃=300 kPa试验值"},{"e":10.4,"v":3.82,"s":"σ₃=300 kPa试验值"},{"e":10.8,"v":3.88,"s":"σ₃=300 kPa试验值"},{"e":11.2,"v":4.00,"s":"σ₃=300 kPa试验值"},{"e":11.6,"v":4.07,"s":"σ₃=300 kPa试验值"},{"e":12,"v":4.16,"s":"σ₃=300 kPa试验值"},{"e":12.4,"v":4.20,"s":"σ₃=300 kPa试验值"},{"e":12.8,"v":4.26,"s":"σ₃=300 kPa试验值"},{"e":13.2,"v":4.36,"s":"σ₃=300 kPa试验值"},{"e":13.6,"v":4.43,"s":"σ₃=300 kPa试验值"},{"e":14,"v":4.46,"s":"σ₃=300 kPa试验值"},{"e":14.4,"v":4.51,"s":"σ₃=300 kPa试验值"},{"e":14.8,"v":4.54,"s":"σ₃=300 kPa试验值"},{"e":15.2,"v":4.60,"s":"σ₃=300 kPa试验值"},{"e":15.6,"v":4.64,"s":"σ₃=300 kPa试验值"},{"e":16,"v":4.67,"s":"σ₃=300 kPa试验值"},{"e":16.4,"v":4.70,"s":"σ₃=300 kPa试验值"}
]
},
"vconcat": [
{
  "width": 1834, "height": 1118,
  "title": {"text": "(a) q−ε₁曲线", "orient": "bottom", "anchor": "middle", "frame": "group", "dx": -64, "offset": 20},
  "layer": [
    {
      "data": {"values": [{}]},
      "mark": {"type": "rule", "stroke": "black", "strokeWidth": 4},
      "encoding": {
        "x": {"datum": 0, "type": "quantitative", "scale": {"domain": [-1.6734, 18], "nice": false, "zero": false}, "axis": {"values": [0, 3, 6, 9, 12, 15, 18], "title": "ε₁/%", "domain": false, "titleX": 997, "tickSize": -20, "labelPadding": 70, "titlePadding": 20}},
        "x2": {"datum": 18},
        "y": {"datum": 0, "type": "quantitative", "scale": {"domain": [0, 1500], "nice": false}, "axis": {"values": [0, 300, 600, 900, 1200, 1500], "title": "q/kPa", "offset": -156, "tickSize": -27, "labelPadding": 58, "titlePadding": 31}}
      }
    },
    {
      "data": {"name": "qdata"},
      "mark": {"type": "point", "filled": true, "opacity": 1, "stroke": "black", "strokeWidth": 4.5, "size": 430},
      "encoding": {
        "x": {"field": "e", "type": "quantitative", "scale": {"domain": [-1.6734, 18], "nice": false, "zero": false}, "axis": {"values": [0, 3, 6, 9, 12, 15, 18], "title": "ε₁/%", "domain": false, "titleX": 997, "tickSize": -20, "labelPadding": 70, "titlePadding": 20}},
        "y": {"field": "q", "type": "quantitative", "scale": {"domain": [0, 1500], "nice": false}, "axis": {"values": [0, 300, 600, 900, 1200, 1500], "title": "q/kPa", "offset": -156, "tickSize": -27, "labelPadding": 58, "titlePadding": 31}},
        "shape": {"field": "s", "type": "nominal",
          "scale": {"domain": ["σ₃=100 kPa预测", "σ₃=200 kPa预测", "σ₃=300 kPa预测", "σ₃=100 kPa试验", "σ₃=200 kPa试验", "σ₃=300 kPa试验"],
                    "range": ["M-1.3,0L0,-0.85L1.3,0L0,0.85Z", "M0,-1.35L1.4,1.0L-1.4,1.0Z", "M-1,-1H1V1H-1Z", "M-1.3,0L0,-0.85L1.3,0L0,0.85Z", "M0,-1.35L1.4,1.0L-1.4,1.0Z", "M-1,-1H1V1H-1Z"]},
          "legend": {"title": null, "orient": "none", "legendX": 499, "legendY": 790, "columns": 2, "columnPadding": 48, "rowPadding": 11, "labelOffset": 2, "symbolSize": 400,
                     "encode": {"symbols": {"update": {"stroke": {"value": "black"}, "strokeWidth": {"value": 4.5}, "opacity": {"value": 1}, "size": {"value": 600}, "fill": {"signal": "indexof(datum.value, '预测') >= 0 ? 'black' : 'white'"}}}}}},
        "fill": {"field": "s", "type": "nominal", "legend": null,
          "scale": {"domain": ["σ₃=100 kPa预测", "σ₃=200 kPa预测", "σ₃=300 kPa预测", "σ₃=100 kPa试验", "σ₃=200 kPa试验", "σ₃=300 kPa试验"],
                    "range": ["black", "black", "black", "white", "white", "white"]}}
      }
    }
  ]
},
{
  "width": 1889, "height": 1024,
  "title": {"text": "(b) εᵥ−ε₁曲线", "orient": "bottom", "anchor": "middle", "frame": "group", "dx": -12, "offset": 31},
  "layer": [
    {
      "data": {"name": "vdata"},
      "mark": {"type": "line", "stroke": "black", "strokeWidth": 4.5},
      "encoding": {
        "x": {"field": "e", "type": "quantitative", "scale": {"domain": [0, 18], "nice": false, "zero": false}, "axis": {"values": [0, 3, 6, 9, 12, 15, 18], "title": "ε₁/%", "tickSize": -32, "labelPadding": 67, "titlePadding": 16}},
        "y": {"field": "v", "type": "quantitative", "scale": {"domain": [0, 5], "nice": false}, "axis": {"values": [0, 1, 2, 3, 4, 5], "title": "εᵥ/%", "tickSize": -33, "labelPadding": 60, "titlePadding": 28}},
        "detail": {"field": "s", "type": "nominal"}
      }
    },
    {
      "data": {"name": "vdata"},
      "mark": {"type": "point", "filled": true, "opacity": 1, "stroke": "black", "strokeWidth": 4.5, "size": 484},
      "encoding": {
        "x": {"field": "e", "type": "quantitative"},
        "y": {"field": "v", "type": "quantitative"},
        "shape": {"field": "s", "type": "nominal", "legend": null,
          "scale": {"domain": ["σ₃=100 kPa预测值", "σ₃=100 kPa试验值", "σ₃=200 kPa预测值", "σ₃=200 kPa试验值", "σ₃=300 kPa预测值", "σ₃=300 kPa试验值"],
                    "range": ["M-1.3,0L0,-1.3L1.3,0L0,1.3Z", "M-1.3,0L0,-1.3L1.3,0L0,1.3Z", "M0,-1.35L1.4,1.05L-1.4,1.05Z", "M0,-1.35L1.4,1.05L-1.4,1.05Z", "M-1.15,-1.15H1.15V1.15H-1.15Z", "M-1.15,-1.15H1.15V1.15H-1.15Z"]}},
        "fill": {"field": "s", "type": "nominal", "legend": null,
          "scale": {"domain": ["σ₃=100 kPa预测值", "σ₃=100 kPa试验值", "σ₃=200 kPa预测值", "σ₃=200 kPa试验值", "σ₃=300 kPa预测值", "σ₃=300 kPa试验值"],
                    "range": ["black", "white", "black", "white", "black", "white"]}}
      }
    },
    {
      "data": {"values": []},
      "mark": {"type": "point", "filled": true, "fill": "black", "stroke": "black", "strokeWidth": 4, "opacity": 1},
      "encoding": {
        "x": {"field": "e", "type": "quantitative"},
        "y": {"field": "v", "type": "quantitative"},
        "shape": {"field": "s", "type": "nominal",
          "scale": {"domain": ["σ₃=100 kPa预测值", "σ₃=200 kPa预测值", "σ₃=300 kPa预测值"],
                    "range": ["M-3,0H-1M1,0H3M0,-1L1,0L0,1L-1,0Z", "M-3,0H-0.55M0.55,0H3M0,-0.95L1.05,0.85L-1.05,0.85Z", "M-3,0H-0.9M0.9,0H3M-0.9,-0.9H0.9V0.9H-0.9Z"]},
          "legend": {"title": null, "orient": "none", "legendX": 139, "legendY": 48, "rowPadding": 28, "labelOffset": 18, "symbolSize": 1024,
                     "encode": {"symbols": {"update": {"stroke": {"value": "black"}, "strokeWidth": {"value": 4}, "fill": {"value": "black"}, "opacity": {"value": 1}}}}}}
      }
    },
    {
      "data": {"values": []},
      "mark": {"type": "point", "filled": true, "fill": "white", "stroke": "black", "strokeWidth": 4, "opacity": 1},
      "encoding": {
        "x": {"field": "e", "type": "quantitative"},
        "y": {"field": "v", "type": "quantitative"},
        "shape": {"field": "s", "type": "nominal",
          "scale": {"domain": ["σ₃=100 kPa试验值", "σ₃=200 kPa试验值", "σ₃=300 kPa试验值"],
                    "range": ["M-3,0H-1M1,0H3M0,-1L1,0L0,1L-1,0Z", "M-3,0H-0.55M0.55,0H3M0,-0.95L1.05,0.85L-1.05,0.85Z", "M-3,0H-0.9M0.9,0H3M-0.9,-0.9H0.9V0.9H-0.9Z"]},
          "legend": {"title": null, "orient": "none", "legendX": 1145, "legendY": 693, "rowPadding": 28, "labelOffset": 18, "symbolSize": 1024,
                     "encode": {"symbols": {"update": {"stroke": {"value": "black"}, "strokeWidth": {"value": 4}, "fill": {"value": "white"}, "opacity": {"value": 1}}}}}}
      }
    }
  ],
  "resolve": {"scale": {"shape": "independent", "fill": "independent"}}
}
]
}
